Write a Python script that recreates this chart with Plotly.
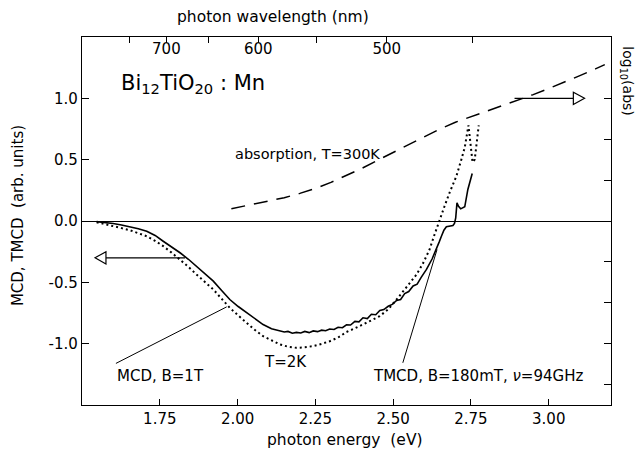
import plotly.graph_objects as go

# ---------------- data ----------------
# TMCD (solid) : photon energy (eV) / signal (arb. units)
tmcd_E = [1.547, 1.575, 1.600, 1.627, 1.654, 1.681, 1.708, 1.735, 1.761, 1.788,
          1.815, 1.842, 1.868, 1.895, 1.922, 1.948, 1.975, 2.002, 2.029, 2.055,
          2.082, 2.109, 2.136, 2.150, 2.162, 2.176, 2.189, 2.203, 2.216, 2.230,
          2.243, 2.257, 2.270, 2.283, 2.296, 2.310, 2.323, 2.337, 2.350, 2.363,
          2.377, 2.390, 2.403, 2.417, 2.430, 2.444, 2.457, 2.470, 2.484, 2.497,
          2.511, 2.524, 2.537, 2.550, 2.564, 2.577, 2.590, 2.607, 2.625, 2.639,
          2.648, 2.655, 2.663, 2.671, 2.682, 2.692, 2.697, 2.701, 2.705, 2.710,
          2.717, 2.724, 2.730, 2.740, 2.747, 2.754]
tmcd_V = [-0.005, -0.012, -0.020, -0.032, -0.045, -0.063, -0.083, -0.118, -0.165, -0.210,
          -0.259, -0.312, -0.368, -0.428, -0.490, -0.565, -0.640, -0.697, -0.748, -0.800,
          -0.844, -0.878, -0.898, -0.905, -0.900, -0.915, -0.908, -0.913, -0.900, -0.910,
          -0.896, -0.902, -0.890, -0.895, -0.880, -0.884, -0.866, -0.870, -0.846, -0.848,
          -0.818, -0.822, -0.789, -0.795, -0.760, -0.764, -0.730, -0.722, -0.695, -0.680,
          -0.648, -0.640, -0.592, -0.575, -0.530, -0.515, -0.460, -0.395, -0.310, -0.232,
          -0.170, -0.124, -0.075, -0.047, -0.040, -0.037, -0.020, 0.026, 0.148, 0.120,
          0.099, 0.105, 0.116, 0.257, 0.320, 0.387]

# MCD (dotted)
mcd_E = [1.547, 1.575, 1.600, 1.627, 1.654, 1.681, 1.708, 1.735, 1.761, 1.788,
         1.815, 1.842, 1.868, 1.895, 1.922, 1.948, 1.975, 2.002, 2.029, 2.055,
         2.082, 2.109, 2.136, 2.162, 2.189, 2.216, 2.243, 2.270, 2.296, 2.323,
         2.350, 2.377, 2.403, 2.430, 2.457, 2.484, 2.511, 2.531, 2.553, 2.574,
         2.595, 2.617, 2.633, 2.649, 2.665, 2.681, 2.692, 2.703, 2.719, 2.730,
         2.738, 2.742, 2.748, 2.755, 2.762, 2.768, 2.775]
mcd_V = [-0.010, -0.025, -0.042, -0.058, -0.075, -0.098, -0.124, -0.162, -0.205, -0.258,
         -0.314, -0.374, -0.436, -0.497, -0.558, -0.632, -0.708, -0.770, -0.830, -0.887,
         -0.939, -0.975, -1.006, -1.025, -1.034, -1.030, -1.020, -1.002, -0.980, -0.950,
         -0.905, -0.875, -0.845, -0.810, -0.775, -0.720, -0.640, -0.575, -0.510, -0.440,
         -0.350, -0.232, -0.110, 0.012, 0.120, 0.230, 0.300, 0.365, 0.500, 0.600,
         0.720, 0.780, 0.640, 0.480, 0.500, 0.640, 0.780]

# absorption, T=300K (dashed, right axis, log10(abs), arbitrary offset)
abs_E = [1.98, 2.05, 2.10, 2.15, 2.20, 2.25, 2.30, 2.35, 2.40, 2.45, 2.50, 2.55, 2.60,
         2.65, 2.70, 2.75, 2.80, 2.85, 2.90, 2.95, 3.00, 3.05, 3.10, 3.15, 3.18]
abs_V = [0.100, 0.135, 0.160, 0.190, 0.225, 0.265, 0.315, 0.370, 0.430, 0.495, 0.560,
         0.625, 0.690, 0.750, 0.805, 0.850, 0.890, 0.935, 0.980, 1.030, 1.080, 1.130,
         1.185, 1.240, 1.275]

energy_ticks = [1.75, 2.00, 2.25, 2.50, 2.75, 3.00]
energy_labels = ["1.75", "2.00", "2.25", "2.50", "2.75", "3.00"]
signal_ticks = [-1.0, -0.5, 0.0, 0.5, 1.0]
signal_labels = ["-1.0", "-0.5", "0.0", "0.5", "1.0"]
wavelength_major = [700, 600, 500]
wavelength_minor = [750, 650, 550, 450]
right_ticks = [1.0, 2/3, 1/3, 0.0, -1/3, -2/3, -1.0, -4/3]

HC = 1239.84  # eV*nm

FONT = "DejaVu Sans"
X_RANGE = [1.5, 3.2]
Y_RANGE = [-1.5, 1.5]

fig = go.Figure()
fig.add_trace(go.Scatter(x=mcd_E, y=mcd_V, mode="lines",
                         line=dict(color="black", width=2, dash="2px,3px"),
                         showlegend=False))
fig.add_trace(go.Scatter(x=tmcd_E, y=tmcd_V, mode="lines",
                         line=dict(color="black", width=1.6), showlegend=False))
fig.add_trace(go.Scatter(x=abs_E, y=abs_V, mode="lines", yaxis="y2",
                         line=dict(color="black", width=1.5, dash="14px,9px"),
                         showlegend=False))
# invisible trace to activate top axis
fig.add_trace(go.Scatter(x=[X_RANGE[0]], y=[0], xaxis="x2", mode="markers",
                         marker=dict(opacity=0), showlegend=False, hoverinfo="skip"))

axis_common = dict(showgrid=False, linecolor="black", linewidth=1.3,
                   tickcolor="black", tickwidth=1.2, ticks="inside",
                   tickfont=dict(family=FONT, size=15, color="black"))

fig.update_layout(
    width=637, height=452,
    margin=dict(l=82, r=26, t=37, b=47),
    paper_bgcolor="white", plot_bgcolor="white",
    font=dict(family=FONT, color="black"),
    xaxis=dict(range=X_RANGE, tickvals=energy_ticks, ticktext=energy_labels,
               showline=True, mirror=True, zeroline=False, ticklen=6, **axis_common),
    xaxis2=dict(range=X_RANGE, overlaying="x", side="top",
                tickvals=[HC / w for w in wavelength_major],
                ticktext=[str(w) for w in wavelength_major],
                minor=dict(tickmode="array", tickvals=[HC / w for w in wavelength_minor],
                           ticks="inside", ticklen=6, tickcolor="black", tickwidth=1.2,
                           showgrid=False),
                ticklabelposition="inside", showline=False, zeroline=False,
                ticklen=6, **axis_common),
    yaxis=dict(range=Y_RANGE, tickvals=signal_ticks, ticktext=signal_labels,
               showline=True, mirror=True, zeroline=True, zerolinecolor="black",
               zerolinewidth=1.2, ticklen=7, **axis_common),
    yaxis2=dict(range=Y_RANGE, overlaying="y", side="right", tickvals=right_ticks,
                showticklabels=False, showline=False, zeroline=False, ticklen=7,
                **axis_common),
)

def ann(text, x, y, size=15, xanchor="left", xref="x", yref="y", angle=0):
    fig.add_annotation(text=text, x=x, y=y, xref=xref, yref=yref, showarrow=False,
                       xanchor=xanchor, yanchor="middle", textangle=angle,
                       font=dict(family=FONT, size=size, color="black"))

ann("Bi<sub>12</sub>TiO<sub>20</sub> : Mn", 1.619, 1.113, size=21)
ann("absorption, T=300K", 1.985, 0.545, size=14.5)
ann("T=2K", 2.155, -1.153, size=15, xanchor="center")
ann("MCD, B=1T", 1.607, -1.262, size=15)
ann("TMCD, B=180mT, <i>ν</i>=94GHz", 2.43, -1.267, size=15)
ann("photon energy  (eV)", 0.497, -0.095, size=15.5, xanchor="center", xref="paper", yref="paper")
ann("photon wavelength (nm)", 0.361, 1.054, size=15.5, xanchor="center", xref="paper", yref="paper")
ann("MCD, TMCD  (arb. units)", -0.121, 0.516, size=15, xanchor="center", xref="paper", yref="paper", angle=-90)
ann("log<sub>10</sub>(abs)", 1.03, 0.88, size=14, xanchor="center", xref="paper", yref="paper", angle=90)

# pointer lines
fig.add_shape(type="line", x0=1.609, y0=-1.161, x1=1.965, y1=-0.70,
              line=dict(color="black", width=1))
fig.add_shape(type="line", x0=2.531, y0=-1.156, x1=2.641, y1=-0.232,
              line=dict(color="black", width=1))

# arrows with open triangle heads
def arrow(x_start, x_base, x_tip, y, half_h=0.05):
    fig.add_shape(type="line", x0=x_start, y0=y, x1=x_base, y1=y,
                  line=dict(color="black", width=1.2))
    fig.add_shape(type="path",
                  path=f"M {x_base},{y - half_h} L {x_tip},{y} L {x_base},{y + half_h} Z",
                  line=dict(color="black", width=1.2), fillcolor="white")

arrow(1.831, 1.577, 1.542, -0.30)
arrow(2.89, 3.079, 3.115, 1.0)

fig.write_html("out.html")
